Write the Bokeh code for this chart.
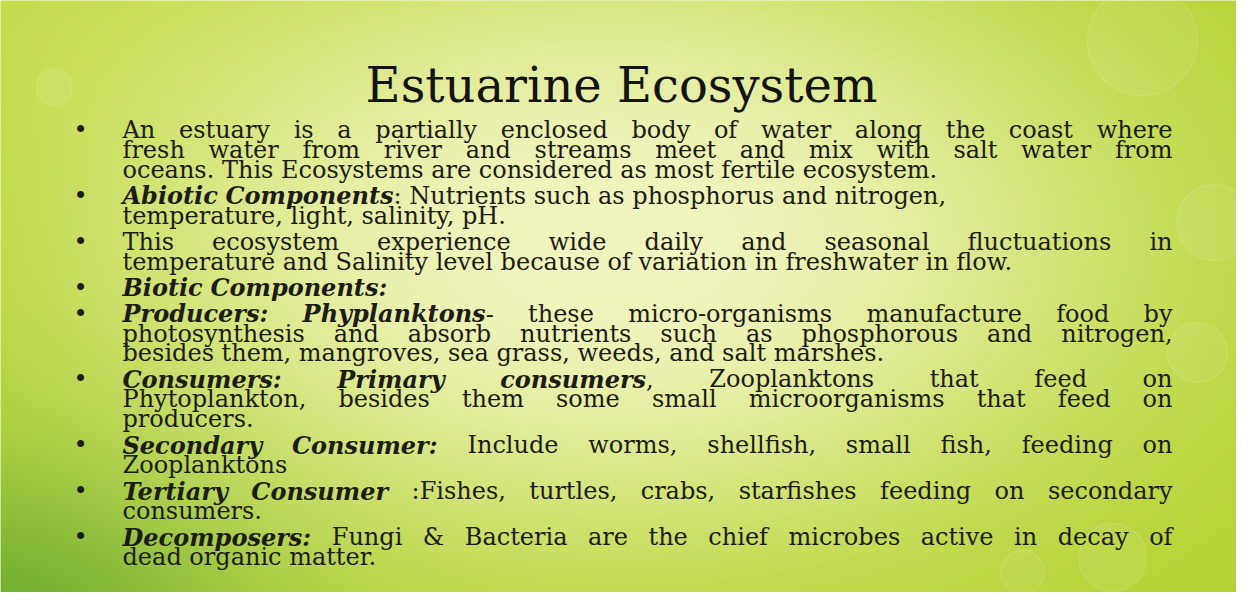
import glob
import os
import numpy as np
from bokeh.plotting import figure
from bokeh.models import Range1d, ColumnDataSource
from bokeh.core.properties import value
from bokeh.embed import file_html
from bokeh.resources import INLINE

# ---------------- content ----------------
TITLE = "Estuarine Ecosystem"

# each paragraph: list of lines; each line: list of (text, style) segments
# style "n" = normal, "bi" = bold italic
PARAGRAPHS = [
    [
        [("An estuary is a partially enclosed body of water along the coast where", "n")],
        [("fresh water from river and streams meet and mix with salt water from", "n")],
        [("oceans. This Ecosystems are considered as most fertile ecosystem.", "n")],
    ],
    [
        [("Abiotic Components", "bi"), (": Nutrients such as phosphorus and nitrogen,", "n")],
        [("temperature, light, salinity, pH.", "n")],
    ],
    [
        [("This ecosystem experience wide daily and seasonal fluctuations in", "n")],
        [("temperature and Salinity level because of variation in freshwater in flow.", "n")],
    ],
    [
        [("Biotic Components:", "bi")],
    ],
    [
        [("Producers: Phyplanktons", "bi"), ("- these micro-organisms manufacture food by", "n")],
        [("photosynthesis and absorb nutrients such as phosphorous and nitrogen,", "n")],
        [("besides them, mangroves, sea grass, weeds, and salt marshes.", "n")],
    ],
    [
        [("Consumers: Primary consumers", "bi"), (", Zooplanktons that feed on", "n")],
        [("Phytoplankton, besides them some small microorganisms that feed on", "n")],
        [("producers.", "n")],
    ],
    [
        [("Secondary Consumer:", "bi"), (" Include worms, shellfish, small fish, feeding on", "n")],
        [("Zooplanktons", "n")],
    ],
    [
        [("Tertiary Consumer", "bi"), (" :Fishes, turtles, crabs, starfishes feeding on secondary", "n")],
        [("consumers.", "n")],
    ],
    [
        [("Decomposers:", "bi"), (" Fungi & Bacteria are the chief microbes active in decay of", "n")],
        [("dead organic matter.", "n")],
    ],
]

JUSTIFIED = [
    [True, True, False],
    [False, False],
    [True, False],
    [False],
    [True, True, False],
    [True, True, False],
    [True, False],
    [True, False],
    [True, False],
]

# ---------------- layout / style ----------------
FONT = "DejaVu Serif"
BODY_SIZE = 24
TITLE_SIZE = 48
W, H = 1236, 592
LEFT, RIGHT = 130, 1180
BULLET_X = 88
FIRST_BASE = 137.5
LINE_STEP = 19.9
PARA_STEP = 26.0
TITLE_X, TITLE_BASE = 629, 92
TEXT_COLOR = "#1c1c12"
TITLE_COLOR = "#131310"


def sy(screen_y):
    return 600 - screen_y


def load_font(fname, size):
    try:
        from PIL import ImageFont
    except Exception:
        return None
    cands = [fname]
    for d in ["/usr/share/fonts", "/usr/local/share/fonts", os.path.expanduser("~/.fonts"),
              os.path.expanduser("~/.local/share/fonts")]:
        cands += glob.glob(os.path.join(d, "**", fname), recursive=True)
    for c in cands:
        try:
            return ImageFont.truetype(c, size)
        except Exception:
            continue
    return None


FONTS = {
    "n": load_font("DejaVuSerif.ttf", BODY_SIZE),
    "bi": load_font("DejaVuSerif-BoldItalic.ttf", BODY_SIZE),
}


def width(text, style):
    f = FONTS.get(style)
    if f is not None:
        try:
            return float(f.getlength(text))
        except Exception:
            pass
    k = 0.60 if style == "bi" else 0.56
    return len(text) * k * BODY_SIZE


def tokenize(line):
    words, cur = [], []
    for text, st in line:
        parts = text.split(" ")
        for i, part in enumerate(parts):
            if i > 0 and cur:
                words.append(cur)
                cur = []
            if part:
                cur.append((part, st))
    if cur:
        words.append(cur)
    return words


cols = {"n": {"x": [], "y": [], "t": []}, "bi": {"x": [], "y": [], "t": []}}
bul = {"x": [], "y": [], "t": []}
space_w = width(" ", "n")
y = FIRST_BASE
for pi, para in enumerate(PARAGRAPHS):
    bul["x"].append(BULLET_X)
    bul["y"].append(sy(y))
    bul["t"].append("\u2022")
    for li, line in enumerate(para):
        words = tokenize(line)
        wl = [sum(width(t, s) for t, s in w) for w in words]
        if JUSTIFIED[pi][li] and len(words) > 1:
            gap = (RIGHT - LEFT - sum(wl)) / (len(words) - 1)
        else:
            gap = space_w
        x = LEFT
        for w, l in zip(words, wl):
            cx = x
            for t, s in w:
                cols[s]["x"].append(cx)
                cols[s]["y"].append(sy(y))
                cols[s]["t"].append(t)
                cx += width(t, s)
            x += l + gap
        y += LINE_STEP
    y += PARA_STEP - LINE_STEP

# ---------------- background gradient ----------------
GW, GH = 309, 148
jj, ii = np.meshgrid(np.arange(GW), np.arange(GH))
px = 8 + (jj + 0.5) * (W / GW)
py = 600 - (ii + 0.5) * (H / GH)  # screen y, row 0 at bottom
edge = np.array([180, 211, 48], dtype=float)
center = np.array([241, 245, 190], dtype=float)
dark = np.array([112, 172, 46], dtype=float)
topl = np.array([202, 222, 78], dtype=float)
d2 = ((px - 620) / 560.0) ** 2 + ((py - 250) / 330.0) ** 2
wc = np.exp(-1.2 * d2 ** 1.25)
wd = np.exp(-(((px - 0) / 270.0) ** 2 + ((py - 640) / 180.0) ** 2))
wt = np.exp(-(((px - 60) / 300.0) ** 2 + ((py - 20) / 160.0) ** 2)) * 0.6
base = edge[None, None, :] * (1 - wt[..., None]) + topl[None, None, :] * wt[..., None]
base = base * (1 - wd[..., None]) + dark[None, None, :] * wd[..., None]
col = base * (1 - wc[..., None]) + center[None, None, :] * wc[..., None]
img = np.empty((GH, GW), dtype=np.uint32)
view = img.view(dtype=np.uint8).reshape((GH, GW, 4))
view[..., :3] = np.clip(col, 0, 255).astype(np.uint8)
view[..., 3] = 255

# faint decorative bubbles
BUB_X = [1150, 1222, 1205, 1120, 62, 1030]
BUB_Y = [48, 230, 360, 565, 95, 580]
BUB_R = [55, 38, 30, 34, 18, 22]

# ---------------- figure ----------------
p = figure(width=W, height=H, x_range=Range1d(8, 8 + W), y_range=Range1d(0, H),
           output_backend="svg", toolbar_location=None, min_border=0,
           tools="")
p.axis.visible = False
p.grid.visible = False
p.outline_line_color = None
p.background_fill_color = "#d8e680"
p.border_fill_color = "white"

p.image_rgba(image=[img], x=8, y=0, dw=W, dh=H)
p.circle(x=BUB_X, y=[sy(v) for v in BUB_Y], radius=BUB_R, fill_color="white",
         fill_alpha=0.07, line_color="white", line_alpha=0.12, line_width=1.5)

p.text(x=[TITLE_X], y=[sy(TITLE_BASE)], text=[TITLE], text_font=value(FONT),
       text_font_size=value(f"{TITLE_SIZE}px"), text_color=TITLE_COLOR,
       text_align="center", text_baseline="alphabetic")

p.text(x="x", y="y", text="t", source=ColumnDataSource(bul), text_font=value(FONT),
       text_font_size=value(f"{BODY_SIZE}px"), text_color=TEXT_COLOR,
       text_align="center", text_baseline="alphabetic")

for st, fs in (("n", "normal"), ("bi", "bold italic")):
    p.text(x="x", y="y", text="t", source=ColumnDataSource(cols[st]), text_font=value(FONT),
           text_font_size=value(f"{BODY_SIZE}px"), text_font_style=fs,
           text_color=TEXT_COLOR, text_align="left", text_baseline="alphabetic")

with open("out.html", "w") as fh:
    fh.write(file_html(p, INLINE))
